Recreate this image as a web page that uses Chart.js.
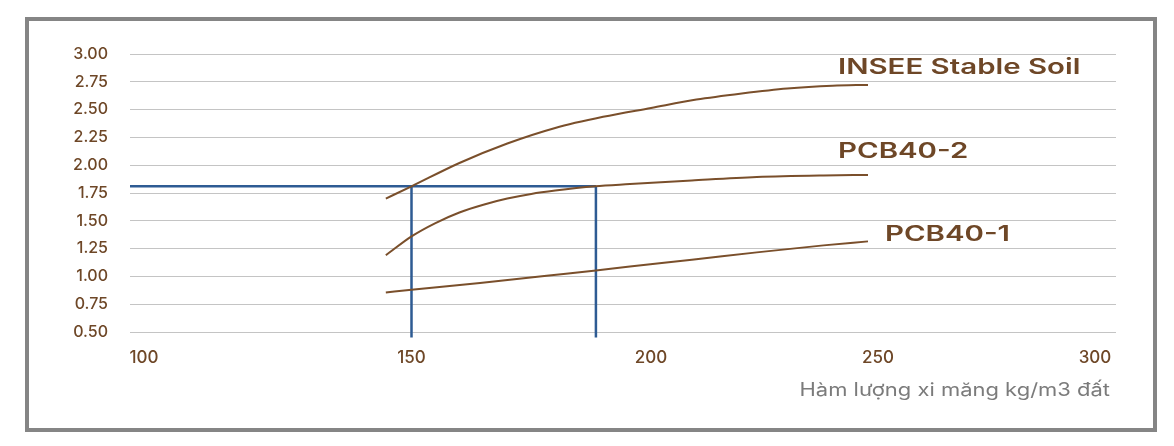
<!DOCTYPE html>
<html>
<head>
<meta charset="utf-8">
<script src="https://cdn.jsdelivr.net/npm/chart.js@4.4.1/dist/chart.umd.min.js"></script>
<style>
  html, body { margin: 0; padding: 0; background: #fff; }
  #wrap { position: relative; width: 1174px; height: 446px; }
  #frame {
    position: absolute; left: 25px; top: 17px;
    width: 1124px; height: 407px;
    border: 4px solid #858585;
  }
  #chart { position: absolute; left: 0; top: 0; }
</style>
</head>
<body>
<div id="wrap">
  <div id="frame"></div>
  <canvas id="chart" width="1174" height="446"></canvas>
</div>
<script>
// data
var xTicks = [100, 150, 200, 250, 300];

var inseeX = [145.2, 150, 160, 170, 180, 190, 200, 210, 220, 230, 240, 247.8];
var inseeY = [1.70, 1.81, 2.02, 2.195, 2.335, 2.435, 2.515, 2.59, 2.645, 2.69, 2.715, 2.722];

var pcb2X = [145.2, 150, 155, 160, 165, 170, 175, 180, 188.3, 195.6, 209, 223.3, 238, 247.8];
var pcb2Y = [1.19, 1.36, 1.48, 1.575, 1.645, 1.70, 1.742, 1.772, 1.81, 1.83, 1.863, 1.894, 1.908, 1.912];

var pcb1X = [145.2, 150, 164.3, 178.2, 188.5, 195.6, 209, 223.3, 238, 247.8];
var pcb1Y = [0.856, 0.88, 0.94, 1.006, 1.054, 1.09, 1.15, 1.216, 1.279, 1.315];

var targetY = 1.81;
var targetX = [150, 188.5];

var seriesNames = ['INSEE Stable Soil', 'PCB40-2', 'PCB40-1'];
var labelX = [241.2, 241.2, 251.6];
var labelY = [2.877, 2.12, 1.375];

var xTitle = 'Hàm lượng xi măng kg/m3 đất';

// cac vach x trong hinh goc khong deu nhau -> truc x ghep tung doan
var X_MIN = 97.4, X_MAX = 304.8;
var knots = [[97.4, 0], [100, 0.0142], [150, 0.2855], [200, 0.5284], [250, 0.7586], [300, 0.9787], [304.8, 1]];

function toDec(v){
    for (var i = 1; i < knots.length; i++) {
        if (v <= knots[i][0] || i == knots.length - 1) {
            var a = knots[i-1], b = knots[i];
            return a[1] + (v - a[0]) * (b[1] - a[1]) / (b[0] - a[0]);
        }
    }
}
function fromDec(d){
    for (var i = 1; i < knots.length; i++) {
        if (d <= knots[i][1] || i == knots.length - 1) {
            var a = knots[i-1], b = knots[i];
            return a[0] + (d - a[1]) * (b[0] - a[0]) / (b[1] - a[1]);
        }
    }
}

class WarpedScale extends Chart.LinearScale {
    getPixelForValue(value){
        return this.getPixelForDecimal(toDec(value));
    }
    getValueForPixel(pixel){
        return fromDec(this.getDecimalForPixel(pixel));
    }
}
WarpedScale.id = 'warped';
WarpedScale.defaults = Chart.LinearScale.defaults;
Chart.register(WarpedScale);

function pts(xs, ys){
    var out = [];
    for (var i = 0; i < xs.length; i++) out.push({x: xs[i], y: ys[i]});
    return out;
}

var brown = '#7a4f2b';
var blue = '#2e5b93';
var textBrown = '#6e4727';

var curveStyle = {
    borderColor: brown, borderWidth: 2, pointRadius: 0,
    cubicInterpolationMode: 'monotone', fill: false
};
var blueStyle = {
    borderColor: blue, borderWidth: 2.5, pointRadius: 0, fill: false, clip: false
};

// draw text stretched sideways (the original font is much wider)
function wideText(ctx, text, x, y, sx, align){
    ctx.save();
    ctx.translate(x, y);
    ctx.scale(sx, 1);
    ctx.textAlign = align;
    ctx.fillText(text, 0, 0);
    ctx.restore();
}

var textPlugin = {
    id: 'textPlugin',
    afterDraw: function(chart){
        var ctx = chart.ctx;
        var xs = chart.scales.x, ys = chart.scales.y;
        ctx.save();
        ctx.textBaseline = 'middle';
        ctx.fillStyle = textBrown;
        ctx.font = '600 21px Inter';
        for (var i = 0; i < seriesNames.length; i++) {
            wideText(ctx, seriesNames[i], xs.getPixelForValue(labelX[i]), ys.getPixelForValue(labelY[i]), 1.4, 'left');
        }
        //x axis title
        ctx.fillStyle = '#7b7b7b';
        ctx.font = '400 18px Inter';
        wideText(ctx, xTitle, xs.right - 6, ys.bottom + 59, 1.22, 'right');
        ctx.restore();
    }
};

var context = document.getElementById('chart').getContext('2d');
var myChart = new Chart(context, {
    type: 'line',
    data: {
        datasets: [
            Object.assign({label: seriesNames[0], data: pts(inseeX, inseeY)}, curveStyle),
            Object.assign({label: seriesNames[1], data: pts(pcb2X, pcb2Y)}, curveStyle),
            Object.assign({label: seriesNames[2], data: pts(pcb1X, pcb1Y)}, curveStyle),
            Object.assign({label: 'h', data: [{x: X_MIN, y: targetY}, {x: targetX[1], y: targetY}]}, blueStyle),
            Object.assign({label: 'v1', data: [{x: targetX[0], y: targetY}, {x: targetX[0], y: 0.45}]}, blueStyle),
            Object.assign({label: 'v2', data: [{x: targetX[1], y: targetY}, {x: targetX[1], y: 0.45}]}, blueStyle)
        ]
    },
    options: {
        responsive: false,
        animation: false,
        layout: { padding: { left: 0, right: 58, top: 54, bottom: 34 } },
        plugins: { legend: { display: false }, tooltip: { enabled: false } },
        scales: {
            x: {
                type: 'warped',
                min: X_MIN, max: X_MAX,
                afterBuildTicks: function(scale){
                    scale.ticks = xTicks.map(function(v){ return {value: v}; });
                },
                afterFit: function(scale){ scale.height = 80; },
                grid: { display: false, drawTicks: false },
                border: { display: false },
                ticks: {
                    color: textBrown, padding: 16, maxRotation: 0, autoSkip: false,
                    font: { family: 'Inter', size: 17, weight: '500' }
                }
            },
            y: {
                min: 0.5, max: 3.0,
                afterFit: function(scale){ scale.width = 130; },
                grid: { color: '#c4c4c4', lineWidth: 1, drawTicks: false },
                border: { display: false },
                ticks: {
                    stepSize: 0.25, color: textBrown, padding: 22,
                    font: { family: 'Inter', size: 16, weight: '500' },
                    callback: function(v){ return v.toFixed(2); }
                }
            }
        }
    },
    plugins: [textPlugin]
});
</script>
</body>
</html>
